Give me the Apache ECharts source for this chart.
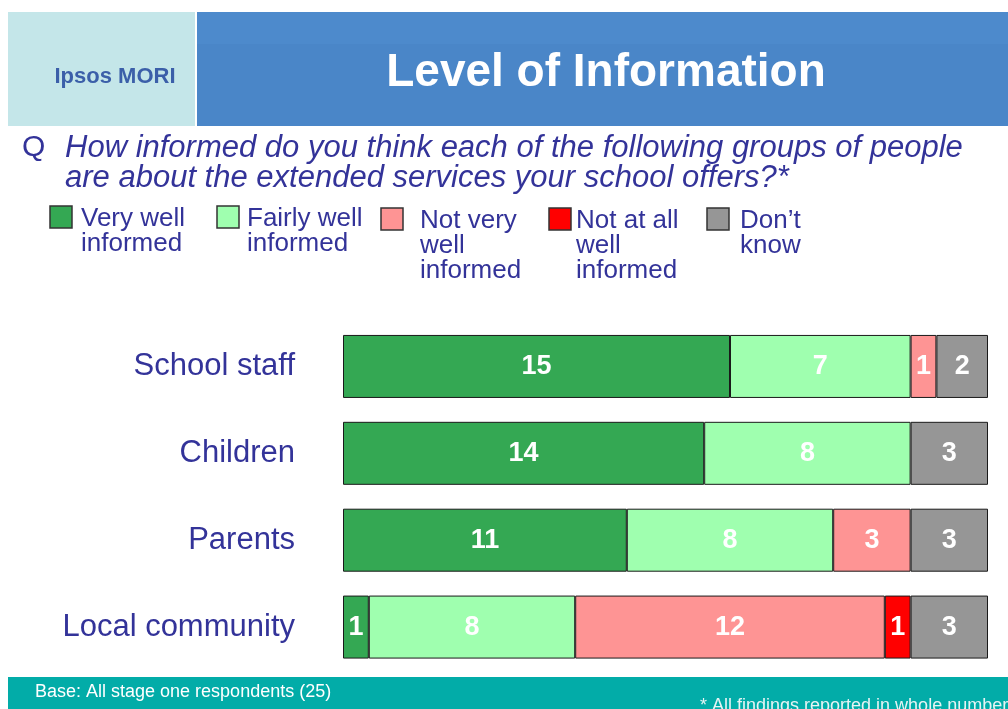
<!DOCTYPE html>
<html>
<head>
<meta charset="utf-8">
<script src="https://cdn.jsdelivr.net/npm/echarts@6/dist/echarts.min.js"></script>
<style>
  html, body { margin: 0; padding: 0; background: #fff; }
  #chart { width: 1008px; height: 709px; }
</style>
</head>
<body>
<div id="chart"></div>
<script>
// groups shown top to bottom
const groups = ['School staff', 'Children', 'Parents', 'Local community'];

// legend names, as printed (with line breaks)
const seriesNames = [
  'Very well\ninformed',
  'Fairly well\ninformed',
  'Not very\nwell\ninformed',
  'Not at all\nwell\ninformed',
  'Don\u2019t\nknow'
];
const seriesColors = ['#34a853', '#9fffaf', '#fe9494', '#ff0000', '#969696'];

// counts per group (0 = not shown)
const veryWell = [15, 14, 11, 1];
const fairlyWell = [7, 8, 8, 8];
const notVeryWell = [1, 0, 3, 12];
const notAtAll = [0, 0, 0, 1];
const dontKnow = [2, 3, 3, 3];
const allValues = [veryWell, fairlyWell, notVeryWell, notAtAll, dontKnow];

const total = 25;

const blue = '#333399';
const font = 'Arial, "Liberation Sans", sans-serif';

// legend spots: box left, box top, text left
const legendPos = [
  [50, 206, 81],
  [217, 206, 247],
  [381, 208, 420],
  [549, 208, 576],
  [707, 208, 740]
];

var chart = echarts.init(document.getElementById('chart'), null, { renderer: 'canvas' });

function buildGraphics() {
  let g = [
    // header boxes
    { type: 'rect', shape: { x: 8, y: 12, width: 187, height: 114 }, style: { fill: '#c4e6e9' } },
    { type: 'rect', shape: { x: 197, y: 12, width: 811, height: 114 }, style: { fill: '#4a86c8' } },
    { type: 'rect', shape: { x: 197, y: 12, width: 811, height: 32 }, style: { fill: '#4d8acc' } },
    { type: 'text', x: 115, y: 77, style: {
      text: 'Ipsos MORI', fill: '#3b5fa9', font: 'bold 22px "Liberation Sans Narrow", Arial, sans-serif',
      textAlign: 'center', textVerticalAlign: 'middle' } },
    { type: 'text', x: 606, y: 73, style: {
      text: 'Level of Information', fill: '#ffffff', font: 'bold 46px ' + font,
      textAlign: 'center', textVerticalAlign: 'middle' } },
    // question
    { type: 'text', x: 22, y: 148, style: {
      text: 'Q', fill: blue, font: '30px ' + font, textVerticalAlign: 'middle' } },
    { type: 'text', x: 65, y: 148, style: {
      text: 'How informed do you think each of the following groups of people', fill: blue,
      font: 'italic 31px ' + font, textVerticalAlign: 'middle' } },
    { type: 'text', x: 65, y: 178, style: {
      text: 'are about the extended services your school offers?*', fill: blue,
      font: 'italic 31px ' + font, textVerticalAlign: 'middle' } },
    // footer
    { type: 'rect', shape: { x: 8, y: 677, width: 1000, height: 32 }, style: { fill: '#02aca8' } },
    { type: 'text', x: 35, y: 692, style: {
      text: 'Base: All stage one respondents (25)', fill: '#ffffff', font: '18px ' + font,
      textVerticalAlign: 'middle' } },
    { type: 'text', x: 700, y: 706, style: {
      text: '* All findings reported in whole numbers', fill: '#e6f4f4', font: '18px ' + font,
      textVerticalAlign: 'middle' } }
  ];

  // legend
  seriesNames.forEach((name, i) => {
    let p = legendPos[i];
    g.push({ type: 'rect', shape: { x: p[0], y: p[1], width: 22, height: 22 },
      style: { fill: seriesColors[i], stroke: '#333', lineWidth: 1.5 } });
    g.push({ type: 'text', x: p[2], y: p[1], style: {
      text: name, fill: blue, font: '26px ' + font, lineHeight: 25 } });
  });
  return g;
}

var option = {
  animation: false,
  grid: { left: 343, right: 20, top: 323, bottom: 38.5, containLabel: false },
  xAxis: { type: 'value', min: 0, max: total, show: false },
  yAxis: {
    type: 'category',
    data: groups,
    inverse: true,
    axisLine: { show: false },
    axisTick: { show: false },
    axisLabel: { color: blue, fontSize: 31, fontFamily: font, margin: 48 }
  },
  graphic: buildGraphics(),
  series: allValues.map((vals, i) => ({
    name: seriesNames[i],
    type: 'bar',
    stack: 'total',
    barWidth: 63,
    itemStyle: { color: seriesColors[i], borderColor: '#1a1a1a', borderWidth: 1 },
    label: {
      show: true,
      position: 'inside',
      color: '#ffffff',
      fontSize: 27,
      fontWeight: 'bold',
      fontFamily: font,
      formatter: p => (p.value ? p.value : '')
    },
    data: vals.map(v => (v ? v : null))
  }))
};

chart.setOption(option);
</script>
</body>
</html>
